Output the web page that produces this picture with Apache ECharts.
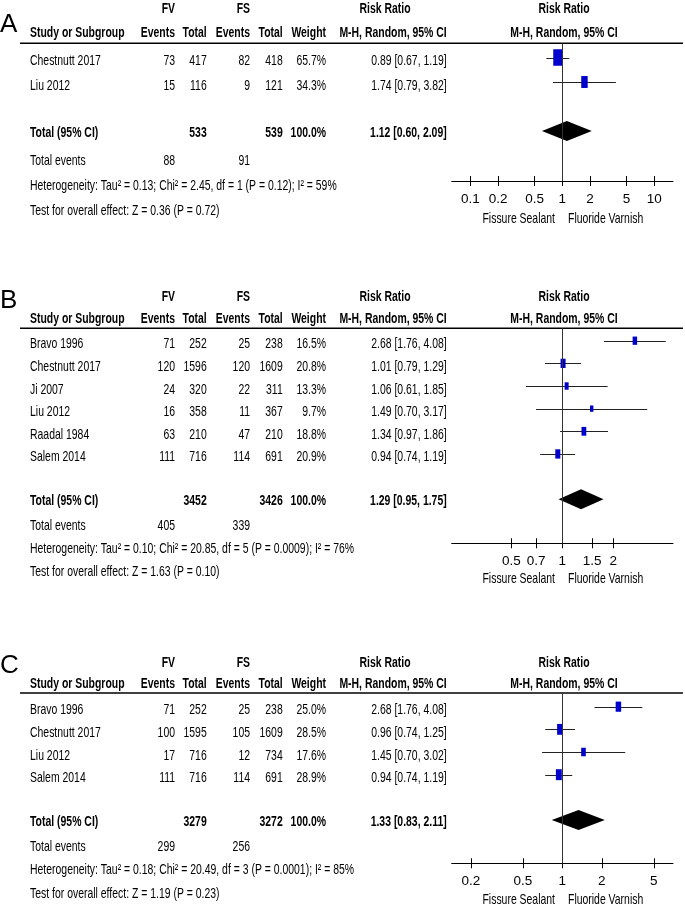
<!DOCTYPE html>
<html><head><meta charset="utf-8">
<script src="https://cdn.jsdelivr.net/npm/echarts@6/dist/echarts.min.js"></script>
<style>html,body{margin:0;padding:0;background:#fff}#c{width:685px;height:908px}</style>
</head><body><div id="c"></div>
<script>
// ---------- DATA ----------
// Panel A
const studiesA   = ['Chestnutt 2017', 'Liu 2012'];
const fvEventsA  = [73, 15];
const fvTotalA   = [417, 116];
const fsEventsA  = [82, 9];
const fsTotalA   = [418, 121];
const weightA    = [65.7, 34.3];
const rrA        = [0.89, 1.74];
const loA        = [0.67, 0.79];
const hiA        = [1.19, 3.82];
const pooledA    = [1.12, 0.60, 2.09];
const totalsA    = [533, 539];
const totEventsA = [88, 91];
const hetA  = 'Heterogeneity: Tau² = 0.13; Chi² = 2.45, df = 1 (P = 0.12); I² = 59%';
const testA = 'Test for overall effect: Z = 0.36 (P = 0.72)';
const ticksA = [0.1, 0.2, 0.5, 1, 2, 5, 10];

// Panel B
const studiesB   = ['Bravo 1996', 'Chestnutt 2017', 'Ji 2007', 'Liu 2012', 'Raadal 1984', 'Salem 2014'];
const fvEventsB  = [71, 120, 24, 16, 63, 111];
const fvTotalB   = [252, 1596, 320, 358, 210, 716];
const fsEventsB  = [25, 120, 22, 11, 47, 114];
const fsTotalB   = [238, 1609, 311, 367, 210, 691];
const weightB    = [16.5, 20.8, 13.3, 9.7, 18.8, 20.9];
const rrB        = [2.68, 1.01, 1.06, 1.49, 1.34, 0.94];
const loB        = [1.76, 0.79, 0.61, 0.70, 0.97, 0.74];
const hiB        = [4.08, 1.29, 1.85, 3.17, 1.86, 1.19];
const pooledB    = [1.29, 0.95, 1.75];
const totalsB    = [3452, 3426];
const totEventsB = [405, 339];
const hetB  = 'Heterogeneity: Tau² = 0.10; Chi² = 20.85, df = 5 (P = 0.0009); I² = 76%';
const testB = 'Test for overall effect: Z = 1.63 (P = 0.10)';
const ticksB = [0.5, 0.7, 1, 1.5, 2];

// Panel C
const studiesC   = ['Bravo 1996', 'Chestnutt 2017', 'Liu 2012', 'Salem 2014'];
const fvEventsC  = [71, 100, 17, 111];
const fvTotalC   = [252, 1595, 716, 716];
const fsEventsC  = [25, 105, 12, 114];
const fsTotalC   = [238, 1609, 734, 691];
const weightC    = [25.0, 28.5, 17.6, 28.9];
const rrC        = [2.68, 0.96, 1.45, 0.94];
const loC        = [1.76, 0.74, 0.70, 0.74];
const hiC        = [4.08, 1.25, 3.02, 1.19];
const pooledC    = [1.33, 0.83, 2.11];
const totalsC    = [3279, 3272];
const totEventsC = [299, 256];
const hetC  = 'Heterogeneity: Tau² = 0.18; Chi² = 20.49, df = 3 (P = 0.0001); I² = 85%';
const testC = 'Test for overall effect: Z = 1.19 (P = 0.23)';
const ticksC = [0.2, 0.5, 1, 2, 5];

const panelLetters = ['A', 'B', 'C'];
const axisRanges = [[1/16, 16], [1/4.5, 4.5], [1/7, 7]];
const sideLabels = ['Fissure Sealant', 'Fluoride Varnish'];

// ---------- LAYOUT (style only) ----------
const FONT = "'Liberation Sans',Arial,sans-serif";
const FS = 14.5;
const NARROW = 0.72;
const COL = {study: 30, fvE: 175, fvT: 206.7, fsE: 250, fsT: 282.7, wt: 326, ci: 446.7, plotC: 564};
const layout = [
  {letterY: 25,  h1: 8.5,   h2: 32.5, line: 43.3,  axis: 181,   base: 33,     pitch: 24.5,  ev: 161,   het: 186,   test: 211,   side: 219},
  {letterY: 301, h1: 296.7, h2: 319,  line: 328.3, axis: 543.3, base: 318.05, pitch: 22.65, ev: 525.8, het: 548.5, test: 571.5, side: 579},
  {letterY: 666, h1: 662.8, h2: 684,  line: 693,   axis: 863.3, base: 684,    pitch: 22.67, ev: 846.7, het: 870,   test: 894,   side: 899.5}
];
const GRID_LEFT = 451.7, GRID_RIGHT = 12;

const panels = [
  {studies: studiesA, fvE: fvEventsA, fvT: fvTotalA, fsE: fsEventsA, fsT: fsTotalA, w: weightA, rr: rrA, lo: loA, hi: hiA, pooled: pooledA, totals: totalsA, tev: totEventsA, het: hetA, test: testA, ticks: ticksA},
  {studies: studiesB, fvE: fvEventsB, fvT: fvTotalB, fsE: fsEventsB, fsT: fsTotalB, w: weightB, rr: rrB, lo: loB, hi: hiB, pooled: pooledB, totals: totalsB, tev: totEventsB, het: hetB, test: testB, ticks: ticksB},
  {studies: studiesC, fvE: fvEventsC, fvT: fvTotalC, fsE: fsEventsC, fsT: fsTotalC, w: weightC, rr: rrC, lo: loC, hi: hiC, pooled: pooledC, totals: totalsC, tev: totEventsC, het: hetC, test: testC, ticks: ticksC}
];

function fmtCI(r, l, h) { return r.toFixed(2) + ' [' + l.toFixed(2) + ', ' + h.toFixed(2) + ']'; }
function txt(x, y, s, align, bold, size, sx) {
  return {type: 'text', x: x, y: y, scaleX: sx == null ? NARROW : sx, silent: true,
    style: {text: String(s), align: align || 'left', verticalAlign: 'middle',
      fontSize: size || FS, fontWeight: bold ? 'bold' : 'normal', fontFamily: FONT, fill: '#000'}};
}

const graphic = [], grids = [], xAxes = [], yAxes = [], series = [];

panels.forEach(function (P, p) {
  const L = layout[p];
  const n = P.studies.length;
  graphic.push(txt(0, L.letterY, panelLetters[p], 'left', false, 26, 1));
  graphic.push(txt(COL.fvE, L.h1, 'FV', 'right', true));
  graphic.push(txt(COL.fsE, L.h1, 'FS', 'right', true));
  graphic.push(txt(385, L.h1, 'Risk Ratio', 'center', true));
  graphic.push(txt(COL.plotC, L.h1, 'Risk Ratio', 'center', true));
  graphic.push(txt(COL.study, L.h2, 'Study or Subgroup', 'left', true));
  graphic.push(txt(COL.fvE, L.h2, 'Events', 'right', true));
  graphic.push(txt(COL.fvT, L.h2, 'Total', 'right', true));
  graphic.push(txt(COL.fsE, L.h2, 'Events', 'right', true));
  graphic.push(txt(COL.fsT, L.h2, 'Total', 'right', true));
  graphic.push(txt(COL.wt, L.h2, 'Weight', 'right', true));
  graphic.push(txt(COL.ci, L.h2, 'M-H, Random, 95% CI', 'right', true));
  graphic.push(txt(COL.plotC, L.h2, 'M-H, Random, 95% CI', 'center', true));
  graphic.push({type: 'line', silent: true, shape: {x1: 20, y1: L.line, x2: 683, y2: L.line}, style: {stroke: '#000', lineWidth: 1.5}});
  for (let i = 0; i < n; i++) {
    const y = L.base + L.pitch * (i + 1) + 3.5;
    graphic.push(txt(COL.study, y, P.studies[i], 'left'));
    graphic.push(txt(COL.fvE, y, P.fvE[i], 'right'));
    graphic.push(txt(COL.fvT, y, P.fvT[i], 'right'));
    graphic.push(txt(COL.fsE, y, P.fsE[i], 'right'));
    graphic.push(txt(COL.fsT, y, P.fsT[i], 'right'));
    graphic.push(txt(COL.wt, y, P.w[i].toFixed(1) + '%', 'right'));
    graphic.push(txt(COL.ci, y, fmtCI(P.rr[i], P.lo[i], P.hi[i]), 'right'));
  }
  const ty = L.base + L.pitch * (n + 2) + 2;
  graphic.push(txt(COL.study, ty, 'Total (95% CI)', 'left', true));
  graphic.push(txt(COL.fvT, ty, P.totals[0], 'right', true));
  graphic.push(txt(COL.fsT, ty, P.totals[1], 'right', true));
  graphic.push(txt(COL.wt, ty, (100).toFixed(1) + '%', 'right', true));
  graphic.push(txt(COL.ci, ty, fmtCI(P.pooled[0], P.pooled[1], P.pooled[2]), 'right', true));
  graphic.push(txt(COL.study, L.ev, 'Total events', 'left'));
  graphic.push(txt(COL.fvE, L.ev, P.tev[0], 'right'));
  graphic.push(txt(COL.fsE, L.ev, P.tev[1], 'right'));
  graphic.push(txt(COL.study, L.het, P.het, 'left'));
  graphic.push(txt(COL.study, L.test, P.test, 'left'));
  graphic.push(txt(555, L.side, sideLabels[0], 'right'));
  graphic.push(txt(568, L.side, sideLabels[1], 'left'));

  grids.push({left: GRID_LEFT, right: GRID_RIGHT, top: L.line, height: L.axis - L.line, containLabel: false});
  const rng = axisRanges[p];
  const baseAxis = {type: 'log', logBase: 10, gridIndex: p, min: rng[0], max: rng[1], position: 'bottom', splitLine: {show: false}};
  xAxes.push(Object.assign({}, baseAxis, {
    axisLine: {show: true, onZero: false, lineStyle: {color: '#000', width: 1}},
    axisTick: {show: true, inside: false, length: 5, customValues: P.ticks, lineStyle: {color: '#000', width: 1}},
    axisLabel: {show: true, customValues: P.ticks, margin: 11, color: '#000', fontSize: 13.5, fontFamily: FONT,
      formatter: function (v) { return String(+(+v).toPrecision(4)); }}
  }));
  xAxes.push(Object.assign({}, baseAxis, {
    axisLine: {show: false, onZero: false},
    axisTick: {show: true, inside: true, length: 5, customValues: P.ticks, lineStyle: {color: '#000', width: 1}},
    axisLabel: {show: false}
  }));
  yAxes.push({type: 'value', gridIndex: p, inverse: true, show: false,
    min: (L.line - L.base) / L.pitch, max: (L.axis - L.base) / L.pitch});

  const data = [];
  for (let i = 0; i < n; i++) data.push([i + 1, P.rr[i], P.lo[i], P.hi[i], P.w[i], 0]);
  data.push([n + 2, P.pooled[0], P.pooled[1], P.pooled[2], 100, 1]);
  series.push({
    type: 'custom', xAxisIndex: 2 * p, yAxisIndex: p, silent: true, clip: false,
    dimensions: ['row', 'rr', 'lo', 'hi', 'w', 'tot'],
    encode: {x: [1, 2, 3], y: 0},
    data: data,
    renderItem: function (params, api) {
      const r = api.value(0), rr = api.value(1), lo = api.value(2), hi = api.value(3), w = api.value(4), tot = api.value(5);
      const c = api.coord([rr, r]), pl = api.coord([lo, r]), ph = api.coord([hi, r]);
      if (tot) {
        const h = 10;
        return {type: 'polygon', shape: {points: [[pl[0], c[1]], [c[0], c[1] - h], [ph[0], c[1]], [c[0], c[1] + h]]}, style: {fill: '#000'}};
      }
      const bw = 1.1 * Math.sqrt(w), bh = 1.85 * bw;
      const yy = Math.round(c[1]) + 0.5;
      return {type: 'group', children: [
        {type: 'line', shape: {x1: pl[0], y1: yy, x2: ph[0], y2: yy}, style: {stroke: '#222', lineWidth: 1}},
        {type: 'rect', shape: {x: c[0] - bw / 2, y: c[1] - bh / 2, width: bw, height: bh}, style: {fill: '#0000cc'}}
      ]};
    },
    markLine: {silent: true, symbol: 'none', label: {show: false}, animation: false,
      lineStyle: {color: '#333', width: 1, type: 'solid'}, data: [{xAxis: 1}]},
    z: 3
  });
});

const chart = echarts.init(document.getElementById('c'), null, {renderer: 'canvas'});
chart.setOption({
  animation: false,
  backgroundColor: '#fff',
  grid: grids, xAxis: xAxes, yAxis: yAxes, series: series, graphic: graphic
});
</script>
</body></html>
